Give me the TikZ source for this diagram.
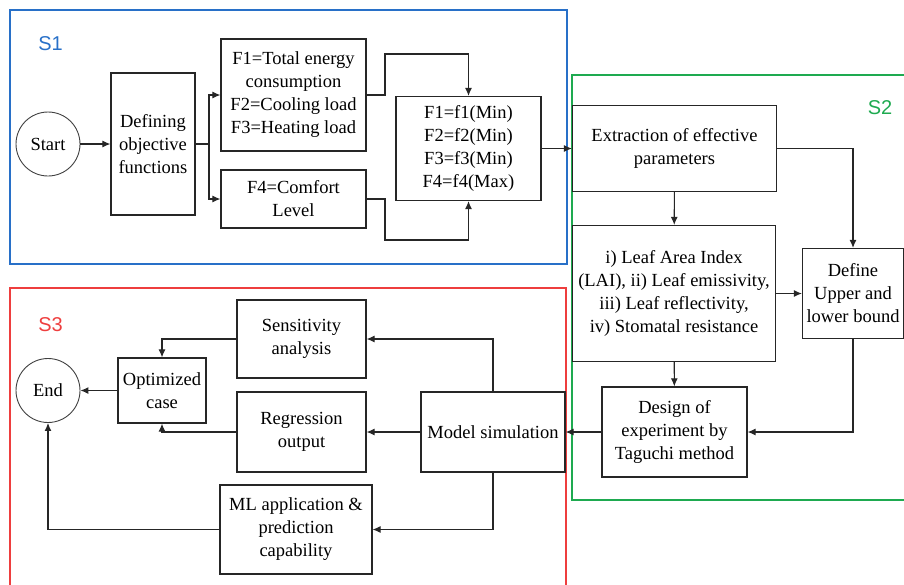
\documentclass[tikz,border=0pt]{standalone}
\usepackage{fontspec}
\setmainfont{Liberation Serif}
\newfontfamily\boxfont{Liberation Serif}
\newfontfamily\stagefont{Liberation Sans}
\usetikzlibrary{arrows.meta}

\definecolor{sblue}{RGB}{40,112,200}
\definecolor{sgreen}{RGB}{30,170,80}
\definecolor{sred}{RGB}{238,62,62}

\begin{document}
\begin{tikzpicture}[x=1pt, y=-1pt, >={Latex[length=8pt,width=7pt]},
	box/.style={draw=black!85, line width=1.2pt, inner sep=1pt, align=center,
		font=\boxfont\fontsize{18.5}{23}\selectfont},
	endpoint/.style={draw=black!75, line width=0.9pt, circle, minimum size=64pt,
		inner sep=0pt, font=\boxfont\fontsize{18.5}{23}\selectfont},
	stagelabel/.style={font=\stagefont\fontsize{20}{24}\selectfont},
	link/.style={->, line width=1.1pt, black!85}]

	\useasboundingbox (0,0) rectangle (904,584);
	\clip (0,0) rectangle (904,584);

	% stage frames
	\draw[sblue, line width=1.1pt] (10,10) rectangle (567,264);
	\draw[sgreen, line width=1.1pt] (572,75) rectangle (910,500);
	\draw[sred, line width=1.1pt] (10,288) rectangle (566,600);

	\node[stagelabel, text=sblue] (s1) at (50.5,44) {S1};
	\node[stagelabel, text=sgreen] (s2) at (880,108) {S2};
	\node[stagelabel, text=sred] (s3) at (50.5,325) {S3};

	% S1
	\node[endpoint] (start) at (48,144) {Start};
	\node[box, minimum width=84pt, minimum height=142pt] (define) at (153,144) {Defining\\objective\\functions};
	\node[box, minimum width=145pt, minimum height=112pt] (ftot) at (293.5,95) {F1=Total energy\\consumption\\F2=Cooling load\\F3=Heating load};
	\node[box, minimum width=145pt, minimum height=58pt] (fcomf) at (293.5,199) {F4=Comfort\\Level};
	\node[box, minimum width=145pt, minimum height=104pt] (fmin) at (468.5,148.5) {F1=f1(Min)\\F2=f2(Min)\\F3=f3(Min)\\F4=f4(Max)};

	\coordinate (split) at (209,144);
	\coordinate (jt) at (385,54);
	\coordinate (jb) at (385,240);

	% S2
	\node[box, minimum width=204pt, minimum height=86pt] (extract) at (674.5,148.5) {Extraction of effective\\parameters};
	\node[box, minimum width=203pt, minimum height=136pt] (leaf) at (674,293.5) {i) Leaf Area Index\\(LAI), ii) Leaf emissivity,\\iii) Leaf reflectivity,\\iv) Stomatal resistance};
	\node[box, minimum width=101pt, minimum height=90pt] (bound) at (853,293.5) {Define\\Upper and\\lower bound};
	\node[box, minimum width=145pt, minimum height=90pt] (taguchi) at (674.5,432) {Design of\\experiment by\\Taguchi method};

	% S3
	\node[box, minimum width=144pt, minimum height=80pt] (model) at (493,432) {Model simulation};
	\node[box, minimum width=129pt, minimum height=78pt] (sens) at (301.5,339) {Sensitivity\\analysis};
	\node[box, minimum width=129pt, minimum height=80pt] (regr) at (301.5,432) {Regression\\output};
	\node[box, minimum width=152pt, minimum height=89pt] (ml) at (296,529.5) {ML application \&\\prediction\\capability};
	\node[box, minimum width=88pt, minimum height=65pt] (optim) at (162,390.5) {Optimized\\case};
	\node[endpoint] (finish) at (48,390.5) {End};

	\draw[link] (start) -- (define);
	\draw[line width=1.1pt, black!85] (define.east) -- (split);
	\draw[link] (split) |- (ftot.west);
	\draw[link] (split) |- (fcomf.west);
	\draw[link] (ftot.east) -| (jt) -| (fmin.north);
	\draw[link] (fcomf.east) -| (jb) -| (fmin.south);
	\draw[link] (fmin.east) -- (extract.west);

	\draw[link] (extract) -- (leaf);
	\draw[link] (extract.east) -| (bound.north);
	\draw[link] (leaf) -- (bound);
	\draw[link] (leaf) -- (taguchi);
	\draw[link] (bound.south) |- (taguchi.east);
	\draw[link] (taguchi) -- (model);

	\draw[link] (model.north) |- (sens.east);
	\draw[link] (model) -- (regr);
	\draw[link] (model.south) |- (ml.east);
	\draw[link] (sens.west) -| (optim.north);
	\draw[link] (regr.west) -| (optim.south);
	\draw[link] (optim) -- (finish);
	\draw[link] (ml.west) -| (finish.south);
\end{tikzpicture}
\end{document}
